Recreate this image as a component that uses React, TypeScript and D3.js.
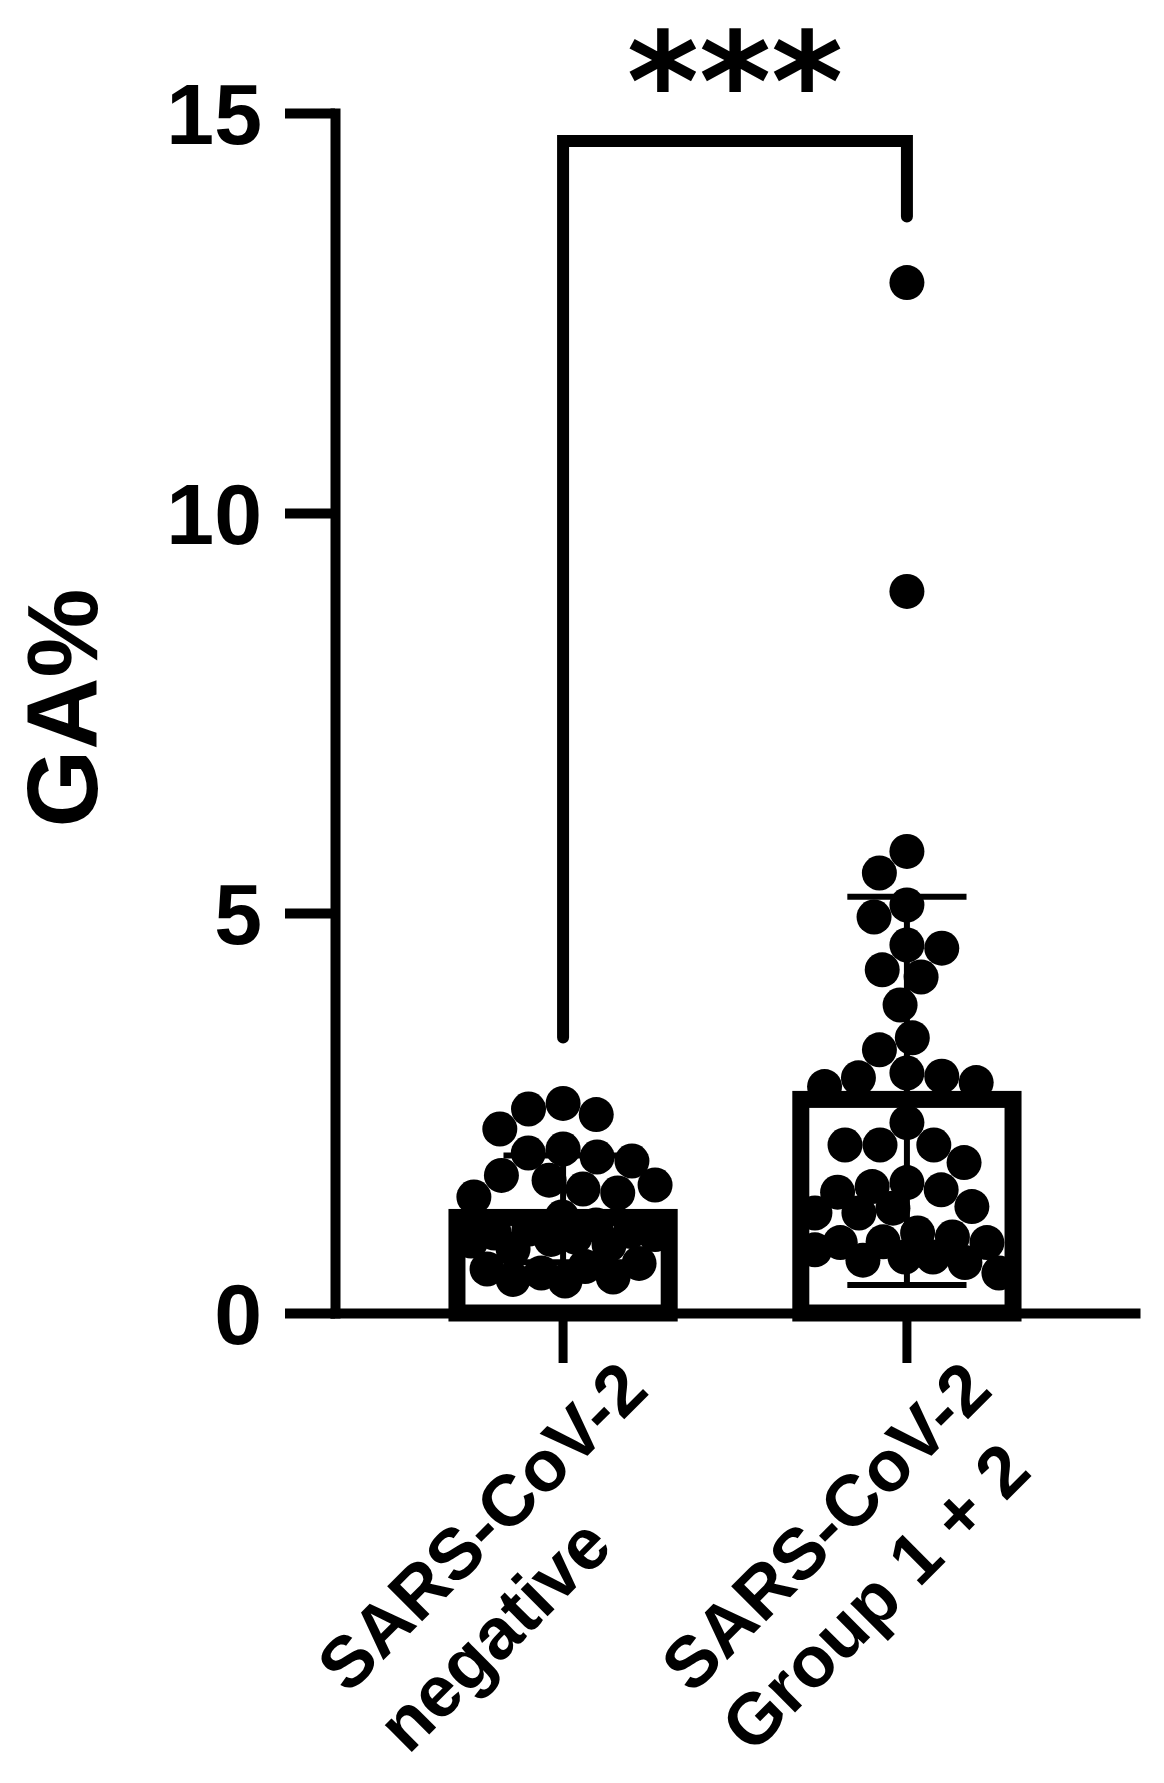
import React, { useEffect, useRef } from 'react';
import * as d3 from 'd3';

// categories and their (two line) tick labels
const categories = ['negative', 'group12'];
const categoryLabels = [
  ['SARS-CoV-2', 'negative'],
  ['SARS-CoV-2', 'Group 1 + 2'],
];

// GA% per subject
const negativeValues = [
  2.62, 2.55, 2.48, 2.30, 2.05, 2.00, 1.95, 1.90, 1.72, 1.66, 1.60, 1.55, 1.50, 1.45, 1.20, 1.10,
  1.05, 1.02, 1.00, 0.98, 0.95, 0.92, 0.90, 0.85, 0.80, 0.62, 0.58, 0.55, 0.50, 0.45, 0.42, 0.40,
];
const positiveValues = [
  12.88, 9.02, 5.77, 5.50, 5.10, 4.95, 4.60, 4.56, 4.29, 4.20, 3.85, 3.44, 3.29, 3.00, 2.96, 2.94,
  2.88, 2.83, 2.38, 2.10, 2.10, 2.10, 1.88, 1.63, 1.58, 1.54, 1.51, 1.33, 1.31, 1.25, 1.25, 1.00,
  0.95, 0.89, 0.88, 0.88, 0.79, 0.70, 0.70, 0.66, 0.63, 0.50,
];

const yTicks = [0, 5, 10, 15];
const yDomain = [0, 15];
const yLabel = 'GA%';
const sigText = '***';
const bracketLevel = 14.65;

const W = 1164;
const H = 1783;
const FONT = "'Liberation Sans', Arial, Helvetica, sans-serif";

// beeswarm: each dot goes as near the centre as it can without touching,
// but never wider than maxOff; if it has to, it sits where it overlaps least
function swarm(vals: number[], ys: (v: number) => number, minDist: number, maxOff: number) {
  const placed: { x: number; y: number }[] = [];
  return vals.map((v) => {
    const py = ys(v);
    const cands = [0];
    placed.forEach((p) => {
      const dy = Math.abs(p.y - py);
      if (dy < minDist) {
        const dx = Math.sqrt(minDist * minDist - dy * dy);
        cands.push(p.x + dx, p.x - dx);
      }
    });
    const ok = cands.filter(
      (cx) => Math.abs(cx) <= maxOff && placed.every((p) => Math.hypot(p.x - cx, p.y - py) >= minDist - 0.01)
    );
    let px: number;
    if (ok.length) {
      ok.sort((a, b) => Math.abs(a) - Math.abs(b) || a - b);
      px = ok[0];
    } else {
      const grid = d3.range(-maxOff, maxOff + 0.1, 2);
      const clear = (cx: number) => d3.min(placed, (p) => Math.hypot(p.x - cx, p.y - py)) as number;
      px = grid.reduce((best, cx) => (clear(cx) > clear(best) ? cx : best), grid[0]);
    }
    placed.push({ x: px, y: py });
    return { x: px, y: py, v };
  });
}

export default function App() {
  const svgRef = useRef<SVGSVGElement>(null);

  useEffect(() => {
    const svg = d3.select(svgRef.current);
    svg.selectAll('*').remove();

    const y = d3.scaleLinear().domain(yDomain).range([1313, 113]);
    const x = d3.scaleBand().domain(categories).range([335, 1135]).paddingInner(1 / 3).paddingOuter(0.33);
    const groups = [negativeValues, positiveValues];
    const bw = x.bandwidth();
    const barStroke = 17;
    const r = 17.5;

    // bars (outer edge of the frame sits on the mean)
    groups.forEach((vals, i) => {
      const m = d3.mean(vals) as number;
      const x0 = x(categories[i]) as number;
      svg.append('rect')
        .attr('x', x0 + barStroke / 2)
        .attr('y', y(m) + barStroke / 2)
        .attr('width', bw - barStroke)
        .attr('height', y(0) - y(m) - barStroke / 2)
        .attr('fill', 'white')
        .attr('stroke', 'black')
        .attr('stroke-width', barStroke);
    });

    // dots
    groups.forEach((vals, i) => {
      const cx = (x(categories[i]) as number) + bw / 2;
      const pts = swarm(vals, y, 35, 92);
      svg.append('g')
        .selectAll('circle')
        .data(pts)
        .join('circle')
        .attr('cx', (d) => cx + d.x)
        .attr('cy', (d) => d.y)
        .attr('r', r)
        .attr('fill', 'black');
    });

    // mean +/- SD
    groups.forEach((vals, i) => {
      const m = d3.mean(vals) as number;
      const sd = d3.deviation(vals) as number;
      const cx = (x(categories[i]) as number) + bw / 2;
      const cap = bw * 0.26;
      const g = svg.append('g').attr('stroke', 'black').attr('stroke-width', 6);
      g.append('line').attr('x1', cx).attr('x2', cx).attr('y1', y(m - sd)).attr('y2', y(m + sd));
      [m - sd, m + sd].forEach((v) => {
        g.append('line').attr('x1', cx - cap).attr('x2', cx + cap).attr('y1', y(v)).attr('y2', y(v));
      });
    });

    // y axis
    const yAxis = svg.append('g')
      .attr('transform', `translate(${x.range()[0]},0)`)
      .call(d3.axisLeft(y).tickValues(yTicks).tickSize(50).tickSizeOuter(0).tickPadding(23));
    yAxis.select('.domain').attr('stroke-width', 10).attr('stroke-linecap', 'square');
    yAxis.selectAll('.tick line').attr('stroke-width', 10);
    yAxis.selectAll('.tick text')
      .attr('font-family', FONT)
      .attr('font-weight', 'bold')
      .attr('font-size', 86)
      .attr('fill', 'black')
      .attr('dy', '0.36em');

    // x axis
    const xAxis = svg.append('g')
      .attr('transform', `translate(0,${y(0)})`)
      .call(d3.axisBottom(x).tickSize(50).tickSizeOuter(0).tickFormat(() => ''));
    xAxis.select('.domain').attr('stroke-width', 10).attr('stroke-linecap', 'square');
    xAxis.selectAll('.tick line').attr('stroke-width', 9);

    // rotated category labels, lines left-aligned, block ends at the tick
    categories.forEach((c, i) => {
      const cx = (x(c) as number) + bw / 2;
      const g = svg.append('g').attr('transform', `translate(${cx},${y(0) + 50}) rotate(-45)`);
      const texts = categoryLabels[i].map((line, k) =>
        g.append('text')
          .attr('y', 83 + k * 85)
          .attr('font-family', FONT)
          .attr('font-weight', 'bold')
          .attr('font-size', 72)
          .attr('fill', 'black')
          .text(line)
      );
      const longest = d3.max(texts, (t) => (t.node() as SVGTextElement).getComputedTextLength()) as number;
      texts.forEach((t) => t.attr('x', 41 - longest));
    });

    // y axis title
    svg.append('text')
      .attr('transform', 'translate(97,708) rotate(-90)')
      .attr('text-anchor', 'middle')
      .attr('font-family', FONT)
      .attr('font-weight', 'bold')
      .attr('font-size', 100)
      .attr('fill', 'black')
      .text(yLabel);

    // significance bracket
    const c1 = (x(categories[0]) as number) + bw / 2;
    const c2 = (x(categories[1]) as number) + bw / 2;
    const leg1 = y(d3.max(negativeValues) as number) - 66;
    const leg2 = y(d3.max(positiveValues) as number) - 66;
    svg.append('path')
      .attr('d', `M${c1},${leg1}V${y(bracketLevel)}H${c2}V${leg2}`)
      .attr('fill', 'none')
      .attr('stroke', 'black')
      .attr('stroke-width', 12)
      .attr('stroke-linecap', 'round');
    svg.append('text')
      .attr('x', (c1 + c2) / 2)
      .attr('y', 130)
      .attr('text-anchor', 'middle')
      .attr('font-family', "'DejaVu Sans', sans-serif")
      .attr('font-weight', 'bold')
      .attr('font-size', 138)
      .attr('fill', 'black')
      .text(sigText);
  }, []);

  return (
    <div style={{ position: 'absolute', left: 0, top: 0 }}>
      <svg ref={svgRef} width={W} height={H} style={{ display: 'block', background: 'white' }}></svg>
    </div>
  );
}
